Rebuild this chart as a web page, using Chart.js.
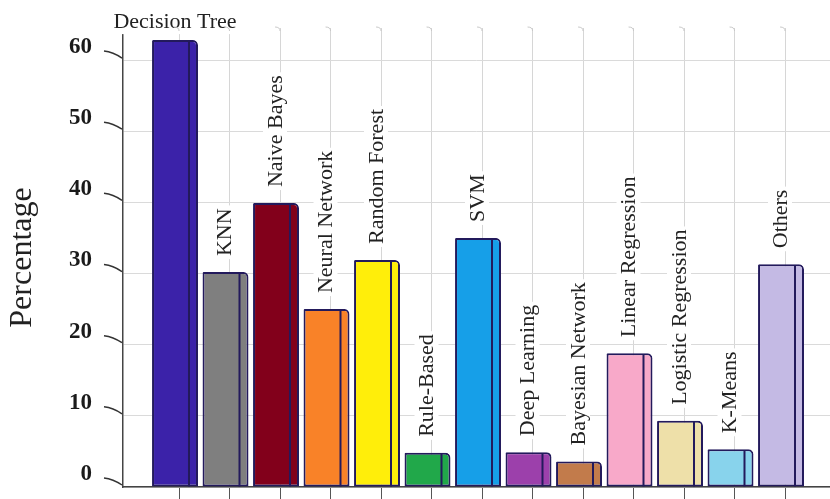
<!DOCTYPE html>
<html>
<head>
<meta charset="utf-8">
<script src="https://cdn.jsdelivr.net/npm/chart.js@4"></script>
<style>
  html, body { margin: 0; padding: 0; background: #fff; }
  #wrap { width: 830px; height: 499px; }
</style>
</head>
<body>
<div id="wrap"><canvas id="chart" width="830" height="499"></canvas></div>
<script>
const methods = ["Decision Tree", "KNN", "Naive Bayes", "Neural Network", "Random Forest", "Rule-Based", "SVM",
  "Deep Learning", "Bayesian Network", "Linear Regression", "Logistic Regression", "K-Means", "Others"];
const percentages = [62.8, 30.2, 39.9, 25.0, 31.9, 4.8, 35.0, 4.9, 3.6, 18.8, 9.3, 5.3, 31.3];
const barColors = ["#3b22a9", "#7f7f7f", "#82001b", "#f98228", "#ffee0a", "#21a84a", "#169fe8",
  "#9c40ab", "#c27b4b", "#f8a9c9", "#eee0a9", "#88d3ec", "#c4bae4"];
const yTicks = [0, 10, 20, 30, 40, 50, 60];

const SERIF = '"Liberation Serif", "Times New Roman", serif';
const EDGE = "#231a5c";

// method names above each bar; vertical unless the bar is too tall for it
const methodLabels = {
  id: "methodLabels",
  beforeDatasetsDraw(chart) {
    const ctx = chart.ctx;
    const top = chart.chartArea.top;
    ctx.save();
    ctx.font = "22px " + SERIF;
    chart.getDatasetMeta(0).data.forEach((bar, i) => {
      const name = methods[i];
      const w = ctx.measureText(name).width;
      if (bar.y - 16 - w < top) {
        ctx.textAlign = "center";
        ctx.textBaseline = "middle";
        ctx.fillStyle = "#fff";
        ctx.fillRect(bar.x - w / 2 - 3, bar.y - 30, w + 6, 24);
        ctx.fillStyle = "#222";
        ctx.fillText(name, bar.x, bar.y - 18);
      } else {
        ctx.save();
        ctx.translate(bar.x - 1, bar.y - 16);
        ctx.rotate(-Math.PI / 2);
        ctx.textAlign = "left";
        ctx.textBaseline = "middle";
        ctx.fillStyle = "#fff";
        ctx.fillRect(-3, -12, w + 6, 24);
        ctx.fillStyle = "#222";
        ctx.fillText(name, 0, 1);
        ctx.restore();
      }
    });
    ctx.restore();
  }
};

// side face line on each bar, slanted y ticks, hooks on the wall verticals
const bar3d = {
  id: "bar3d",
  afterDatasetsDraw(chart) {
    const ctx = chart.ctx;
    ctx.save();
    ctx.strokeStyle = EDGE;
    ctx.lineWidth = 2;
    chart.getDatasetMeta(0).data.forEach((bar) => {
      const right = bar.x + bar.width / 2;
      ctx.beginPath();
      ctx.moveTo(right - 9, bar.y + 1);
      ctx.lineTo(right - 9, bar.base);
      ctx.stroke();
    });
    const y = chart.scales.y;
    const left = chart.chartArea.left;
    ctx.strokeStyle = "#333";
    ctx.lineWidth = 1.5;
    yTicks.forEach((v) => {
      const gy = y.getPixelForValue(v);
      ctx.beginPath();
      ctx.moveTo(left - 19, gy - 9);
      ctx.quadraticCurveTo(left - 10, gy - 8, left - 1, gy - 2);
      ctx.stroke();
    });
    const top = chart.chartArea.top;
    ctx.strokeStyle = "#c8c8c8";
    ctx.lineWidth = 1;
    chart.scales.x.ticks.forEach((t) => {
      const gx = chart.scales.x.getPixelForValue(t.value);
      ctx.beginPath();
      ctx.moveTo(gx - 5, top - 1);
      ctx.quadraticCurveTo(gx, top - 1, gx, top + 3);
      ctx.stroke();
    });
    ctx.restore();
  }
};

new Chart(document.getElementById("chart"), {
  type: "bar",
  data: {
    datasets: [{
      data: percentages.map((v, i) => ({ x: i, y: v })),
      backgroundColor: barColors,
      borderColor: EDGE,
      borderWidth: 2,
      borderSkipped: false,
      borderRadius: { topLeft: 1, topRight: 5, bottomLeft: 0, bottomRight: 0 },
      categoryPercentage: 1,
      barPercentage: 0.91
    }]
  },
  options: {
    responsive: false,
    animation: false,
    layout: { padding: { top: 28, left: 0, right: 0, bottom: 0 } },
    plugins: { legend: { display: false }, tooltip: { enabled: false } },
    scales: {
      x: {
        type: "linear",
        min: -1.03,
        max: 12.97,
        offset: false,
        afterBuildTicks: (s) => { s.ticks = methods.map((_, i) => ({ value: i + 0.08 })); },
        afterFit: (s) => { s.height = 12; s.paddingLeft = 0; s.paddingRight = 0; },
        ticks: { display: false },
        grid: { offset: false, color: "#d6d6d6", tickColor: "#555", tickLength: 12, lineWidth: 1 },
        border: { display: true, color: "#444", width: 1.5 }
      },
      y: {
        min: 0,
        max: 64.5,
        afterFit: (s) => { s.width = 123; s.paddingTop = 0; s.paddingBottom = 0; },
        ticks: {
          stepSize: 10,
          includeBounds: false,
          padding: 31,
          labelOffset: -13,
          color: "#1a1a1a",
          font: { family: SERIF, size: 23, weight: "bold" }
        },
        grid: { color: "#dadada", drawTicks: false, lineWidth: 1 },
        border: { display: true, color: "#444", width: 1.5 },
        title: {
          display: true,
          text: "Percentage",
          color: "#222",
          font: { family: SERIF, size: 32 },
          padding: { top: 3 }
        }
      }
    }
  },
  plugins: [methodLabels, bar3d]
});
</script>
</body>
</html>
